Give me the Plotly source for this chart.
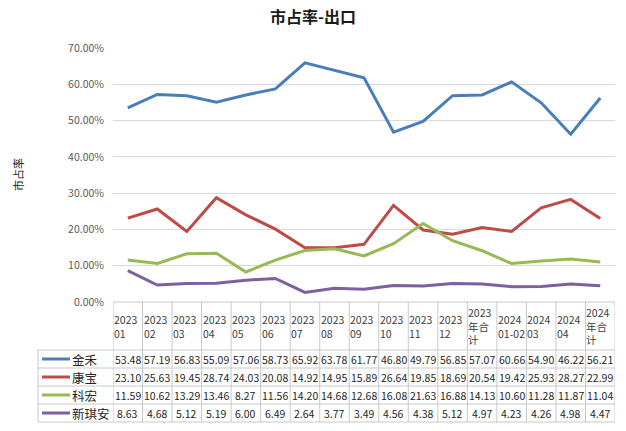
import plotly.graph_objects as go

categories = ["2023<br>01", "2023<br>02", "2023<br>03", "2023<br>04", "2023<br>05", "2023<br>06",
              "2023<br>07", "2023<br>08", "2023<br>09", "2023<br>10", "2023<br>11", "2023<br>12",
              "2023<br>年合<br>计", "2024<br>01-02", "2024<br>03", "2024<br>04", "2024<br>年合<br>计"]

series_names = ["金禾", "康宝", "科宏", "新琪安"]
jinhe = [53.48, 57.19, 56.83, 55.09, 57.06, 58.73, 65.92, 63.78, 61.77, 46.80, 49.79, 56.85, 57.07, 60.66, 54.90, 46.22, 56.21]
kangbao = [23.10, 25.63, 19.45, 28.74, 24.03, 20.08, 14.92, 14.95, 15.89, 26.64, 19.85, 18.69, 20.54, 19.42, 25.93, 28.27, 22.99]
kehong = [11.59, 10.62, 13.29, 13.46, 8.27, 11.56, 14.20, 14.68, 12.68, 16.08, 21.63, 16.88, 14.13, 10.60, 11.28, 11.87, 11.04]
xinqian = [8.63, 4.68, 5.12, 5.19, 6.00, 6.49, 2.64, 3.77, 3.49, 4.56, 4.38, 5.12, 4.97, 4.23, 4.26, 4.98, 4.47]
series_values = [jinhe, kangbao, kehong, xinqian]
colors = ["#4A7EBB", "#BE4B48", "#98B954", "#7D60A0"]

W, H = 626, 431
L, R, T, B = 113, 615, 48, 302
FONT = "Noto Sans CJK SC"
GRID = "#D9D9D9"
BORDER = "#C8C8C8"

n = len(categories)
xs = list(range(n))


def py(p):
    return (B - p) / (B - T)


def px(p):
    return (p - L) / (R - L)


fig = go.Figure()
for name, vals, c in zip(series_names, series_values, colors):
    fig.add_trace(go.Scatter(x=xs, y=vals, mode="lines", name=name,
                             line=dict(color=c, width=3), cliponaxis=False))

shapes = []
annotations = []

# table geometry
header_top, header_bot = 302, 350
row_h = 18
table_left = 38
row_lines = [header_bot + k * row_h for k in range(len(series_names) + 1)]
table_bottom = row_lines[-1]

for yy in row_lines:
    shapes.append(dict(type="line", xref="paper", yref="paper", x0=px(table_left), x1=1,
                       y0=py(yy), y1=py(yy), line=dict(color=BORDER, width=1)))
shapes.append(dict(type="line", xref="paper", yref="paper", x0=0, x1=1,
                   y0=py(header_top), y1=py(header_top), line=dict(color=BORDER, width=1)))
shapes.append(dict(type="line", xref="paper", yref="paper", x0=px(table_left), x1=px(table_left),
                   y0=py(header_bot), y1=py(table_bottom), line=dict(color=BORDER, width=1)))
for k in range(n + 1):
    shapes.append(dict(type="line", xref="x", yref="paper", x0=k - 0.5, x1=k - 0.5,
                       y0=py(header_top), y1=py(table_bottom), line=dict(color=BORDER, width=1)))

# header labels
for i, cat in enumerate(categories):
    annotations.append(dict(x=i - 0.5, y=py((header_top + header_bot) / 2), xref="x", yref="paper",
                            text=cat, showarrow=False, xanchor="left", yanchor="middle",
                            xshift=0, align="left", borderpad=0,
                            font=dict(family=FONT, size=10.5, color="#404040")))

# data rows + legend keys
for r, (name, vals, c) in enumerate(zip(series_names, series_values, colors)):
    yc = row_lines[r] + row_h / 2
    shapes.append(dict(type="line", xref="paper", yref="paper", x0=px(42), x1=px(70),
                       y0=py(yc), y1=py(yc), line=dict(color=c, width=3)))
    annotations.append(dict(x=px(71), y=py(yc), xref="paper", yref="paper", text=name,
                            showarrow=False, xanchor="left", yanchor="middle", borderpad=0,
                            font=dict(family=FONT, size=12.5, color="#262626")))
    for i, v in enumerate(vals):
        annotations.append(dict(x=i, y=py(yc), xref="x", yref="paper", text=f"{v:.2f}",
                                showarrow=False, xanchor="center", yanchor="middle", borderpad=0,
                                font=dict(family=FONT, size=10.5, color="#262626")))

# y axis title
annotations.append(dict(x=px(18), y=py(175), xref="paper", yref="paper", text="市占率",
                        textangle=-90, showarrow=False, xanchor="center", yanchor="middle",
                        font=dict(family=FONT, size=11, color="#262626")))

fig.update_layout(
    width=W, height=H,
    margin=dict(l=L, r=W - R, t=T, b=H - B),
    paper_bgcolor="white", plot_bgcolor="white",
    showlegend=False,
    title=dict(text="<b>市占率-出口</b>", x=0.5, xref="container", xanchor="center",
               y=1 - 17 / H, yref="container", yanchor="middle",
               font=dict(family=FONT, size=16, color="#1a1a1a")),
    xaxis=dict(range=[-0.5, n - 0.5], showticklabels=False, showgrid=False, zeroline=False,
               showline=False, fixedrange=True),
    yaxis=dict(range=[0, 70], dtick=10, tickformat=".2f", ticksuffix="%",
               showgrid=True, gridcolor=GRID, gridwidth=1, zeroline=False, showline=False,
               ticks="", ticklabelstandoff=8,
               tickfont=dict(family=FONT, size=10.5, color="#595959")),
    shapes=shapes,
    annotations=annotations,
)

fig.write_html("out.html", config={"displayModeBar": False},
               post_script="document.body.style.margin='0';")
